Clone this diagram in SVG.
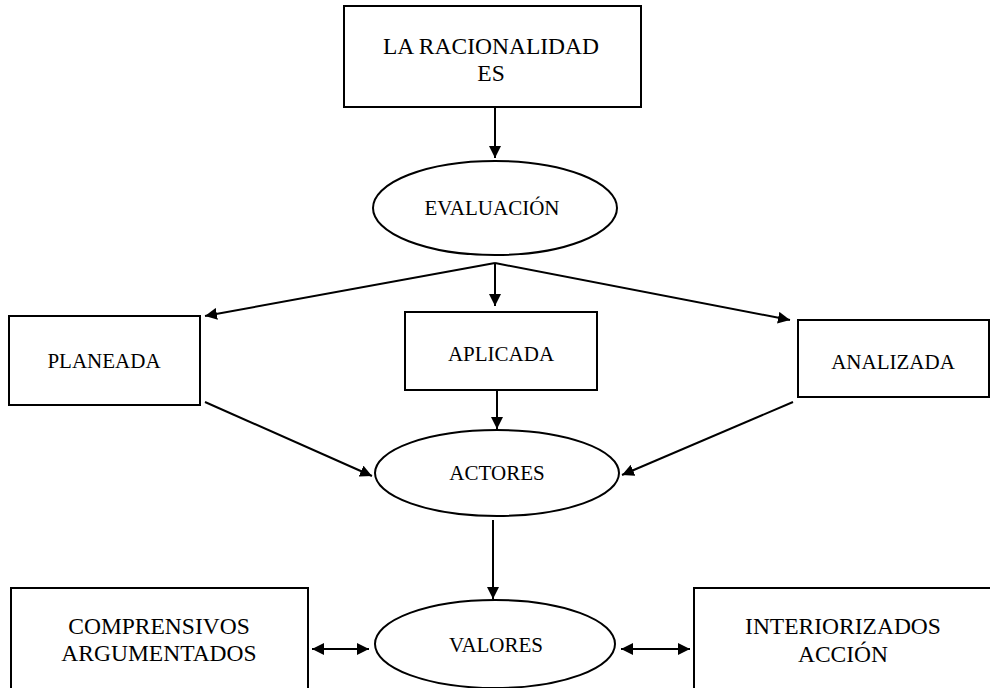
<svg xmlns="http://www.w3.org/2000/svg" width="990" height="688" viewBox="0 0 990 688">
<style>
.n{fill:#fff;stroke:#000;stroke-width:2}
.t{font-family:"Liberation Serif",serif;font-size:21px;fill:#000;text-anchor:middle}
.big{font-size:23.5px}
.c{stroke:#000;stroke-width:2;fill:none}
</style>
<defs>
<marker id="a" viewBox="0 0 10 10" refX="10" refY="5" markerWidth="6" markerHeight="6" orient="auto-start-reverse" markerUnits="strokeWidth">
<path d="M0,0L10,5L0,10z" fill="#000"/>
</marker>
</defs>
<rect width="990" height="688" fill="#fff"/>
<g id="racionalidad"><rect class="n" x="344" y="6" width="297" height="101"/><text class="t big" x="491" y="54">LA RACIONALIDAD</text><text class="t big" x="491" y="81">ES</text></g>
<g id="evaluacion"><ellipse class="n" cx="495" cy="208" rx="122" ry="47"/><text class="t" x="492" y="215">EVALUACIÓN</text></g>
<g id="planeada"><rect class="n" x="9" y="316" width="191" height="89"/><text class="t" x="104" y="368">PLANEADA</text></g>
<g id="aplicada"><rect class="n" x="405" y="312" width="192" height="78"/><text class="t" x="501" y="361">APLICADA</text></g>
<g id="analizada"><rect class="n" x="798" y="320" width="191" height="77"/><text class="t" x="893" y="369">ANALIZADA</text></g>
<g id="actores"><ellipse class="n" cx="497" cy="473" rx="122" ry="43"/><text class="t" x="497" y="480">ACTORES</text></g>
<g id="valores"><ellipse class="n" cx="495" cy="644" rx="120" ry="44"/><text class="t" x="496" y="652">VALORES</text></g>
<g id="comprensivos"><rect class="n" x="11" y="588" width="297" height="110"/><text class="t big" x="159" y="634">COMPRENSIVOS</text><text class="t big" x="159" y="661">ARGUMENTADOS</text></g>
<g id="interiorizados"><rect class="n" x="694" y="588" width="297" height="110"/><text class="t big" x="843" y="634">INTERIORIZADOS</text><text class="t big" x="843" y="662">ACCIÓN</text></g>
<g id="connectors">
<line class="c" x1="495" y1="108" x2="495" y2="158" marker-end="url(#a)"/>
<line class="c" x1="495" y1="263" x2="205" y2="316" marker-end="url(#a)"/>
<line class="c" x1="495" y1="263" x2="495" y2="306" marker-end="url(#a)"/>
<line class="c" x1="495" y1="263" x2="790" y2="320" marker-end="url(#a)"/>
<line class="c" x1="497" y1="390" x2="497" y2="429" marker-end="url(#a)"/>
<line class="c" x1="205" y1="402" x2="372" y2="476" marker-end="url(#a)"/>
<line class="c" x1="793" y1="402" x2="622" y2="475" marker-end="url(#a)"/>
<line class="c" x1="493" y1="520" x2="493" y2="599" marker-end="url(#a)"/>
<line class="c" x1="312" y1="649" x2="369" y2="649" marker-start="url(#a)" marker-end="url(#a)"/>
<line class="c" x1="621" y1="649" x2="690" y2="649" marker-start="url(#a)" marker-end="url(#a)"/>
</g>
</svg>
